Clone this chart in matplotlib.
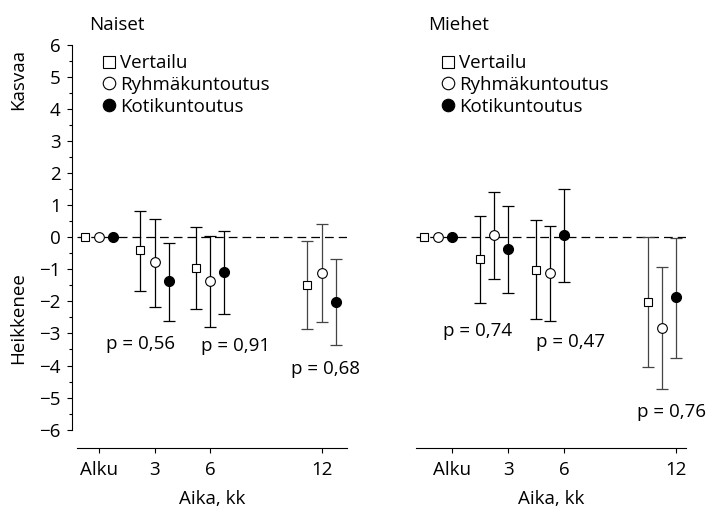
import matplotlib

matplotlib.use("Agg")
import matplotlib.pyplot as plt
from matplotlib.lines import Line2D

plt.rcParams["font.family"] = ["Open Sans", "DejaVu Sans"]
plt.rcParams["font.size"] = 13.5

# months after baseline; 0 = "Alku"
times = [0, 3, 6, 12]
time_labels = ["Alku", "3", "6", "12"]
groups = ["Vertailu", "Ryhmäkuntoutus", "Kotikuntoutus"]

# Naiset: mean change and 95 % interval bounds
naiset_mean = {
    "Vertailu": [0, -0.41, -0.96, -1.48],
    "Ryhmäkuntoutus": [0, -0.78, -1.37, -1.11],
    "Kotikuntoutus": [0, -1.38, -1.10, -2.01],
}
naiset_low = {
    "Vertailu": [0, -1.67, -2.25, -2.86],
    "Ryhmäkuntoutus": [0, -2.17, -2.80, -2.65],
    "Kotikuntoutus": [0, -2.60, -2.38, -3.36],
}
naiset_high = {
    "Vertailu": [0, 0.82, 0.33, -0.11],
    "Ryhmäkuntoutus": [0, 0.58, 0.05, 0.41],
    "Kotikuntoutus": [0, -0.17, 0.20, -0.69],
}
naiset_p = ["p = 0,56", "p = 0,91", "p = 0,68"]

# Miehet
miehet_mean = {
    "Vertailu": [0, -0.69, -1.01, -2.01],
    "Ryhmäkuntoutus": [0, 0.06, -1.11, -2.83],
    "Kotikuntoutus": [0, -0.37, 0.06, -1.88],
}
miehet_low = {
    "Vertailu": [0, -2.05, -2.55, -4.05],
    "Ryhmäkuntoutus": [0, -1.29, -2.61, -4.74],
    "Kotikuntoutus": [0, -1.73, -1.39, -3.76],
}
miehet_high = {
    "Vertailu": [0, 0.66, 0.53, 0.00],
    "Ryhmäkuntoutus": [0, 1.40, 0.36, -0.92],
    "Kotikuntoutus": [0, 0.96, 1.50, -0.02],
}
miehet_p = ["p = 0,74", "p = 0,47", "p = 0,76"]

STYLE = {
    "Vertailu": dict(marker="s", ms=5.5, mfc="white"),
    "Ryhmäkuntoutus": dict(marker="o", ms=7, mfc="white"),
    "Kotikuntoutus": dict(marker="o", ms=7.2, mfc="black"),
}
BAR_COLORS = ["black", "black", "black", "#444444"]
YLIM = (-6.57, 6.4)


def draw_panel(ax, title, mean, low, high, offsets, pvals, p_xy, show_y):
    ax.axhline(0, color="black", lw=0.9, dashes=(7, 4), zorder=1)
    for g, off in zip(groups, offsets):
        xs = [t + off for t in times]
        for i in range(1, len(times)):
            ax.errorbar(
                xs[i], mean[g][i],
                yerr=[[mean[g][i] - low[g][i]], [high[g][i] - mean[g][i]]],
                fmt="none", ecolor=BAR_COLORS[i], elinewidth=0.9,
                capsize=4.4, capthick=0.9, zorder=2,
            )
        st = STYLE[g]
        ax.plot(xs, mean[g], ls="none", marker=st["marker"], ms=st["ms"],
                mfc=st["mfc"], mec="black", mew=0.8, zorder=3)

    for txt, (px, py) in zip(pvals, p_xy):
        ax.text(px, py, txt, ha="center", va="baseline")

    ax.set_ylim(*YLIM)
    ax.set_xticks(times)
    ax.set_xticklabels(time_labels)
    ax.tick_params(axis="x", length=3.5, width=0.8, pad=6)
    ax.set_xlabel("Aika, kk", labelpad=8)
    for side in ("top", "right"):
        ax.spines[side].set_visible(False)
    ax.spines["bottom"].set_linewidth(0.8)
    if show_y:
        ax.spines["left"].set_position(("outward", 3.4))
        ax.spines["left"].set_bounds(-6, 6)
        ax.spines["left"].set_linewidth(0.8)
        ax.set_yticks(range(-6, 7))
        ax.set_yticks([v / 2 for v in range(-11, 12, 2)], minor=True)
        ax.tick_params(axis="y", which="major", length=3.6, width=0.8, pad=4.5)
        ax.tick_params(axis="y", which="minor", length=2, width=0.8)
    else:
        ax.spines["left"].set_visible(False)
        ax.set_yticks([])

    ax.text(0.046, 1.005, title, transform=ax.transAxes, ha="left", va="baseline")

    handles = [
        Line2D([], [], ls="none", marker="s", ms=8.5, mfc="white", mec="black", mew=0.8),
        Line2D([], [], ls="none", marker="o", ms=9, mfc="white", mec="black", mew=0.8),
        Line2D([], [], ls="none", marker="o", ms=9, mfc="black", mec="black", mew=0.8),
    ]
    ax.legend(handles, groups, loc="upper left", bbox_to_anchor=(0.091, 0.946),
              frameon=False, borderpad=0, borderaxespad=0, handlelength=0.8,
              handletextpad=0.2, labelspacing=0.2)


fig = plt.figure(figsize=(7.11, 5.12), dpi=100)
ax_n = fig.add_axes([0.108, 0.125, 0.380, 0.813])
ax_m = fig.add_axes([0.585, 0.125, 0.380, 0.813])

ax_n.set_xlim(-1.2, 13.35)
ax_m.set_xlim(-1.95, 12.56)

draw_panel(ax_n, "Naiset", naiset_mean, naiset_low, naiset_high,
           [-0.78, 0, 0.75], naiset_p,
           [(2.21, -3.47), (7.33, -3.55), (12.18, -4.25)], True)
draw_panel(ax_m, "Miehet", miehet_mean, miehet_low, miehet_high,
           [-1.5, -0.75, 0], miehet_p,
           [(1.38, -3.08), (6.38, -3.42), (11.8, -5.6)], False)

fig.text(0.025, 0.845, "Kasvaa", rotation=90, ha="center", va="center")
fig.text(0.025, 0.379, "Heikkenee", rotation=90, ha="center", va="center")

fig.savefig("out.png", dpi=100)
